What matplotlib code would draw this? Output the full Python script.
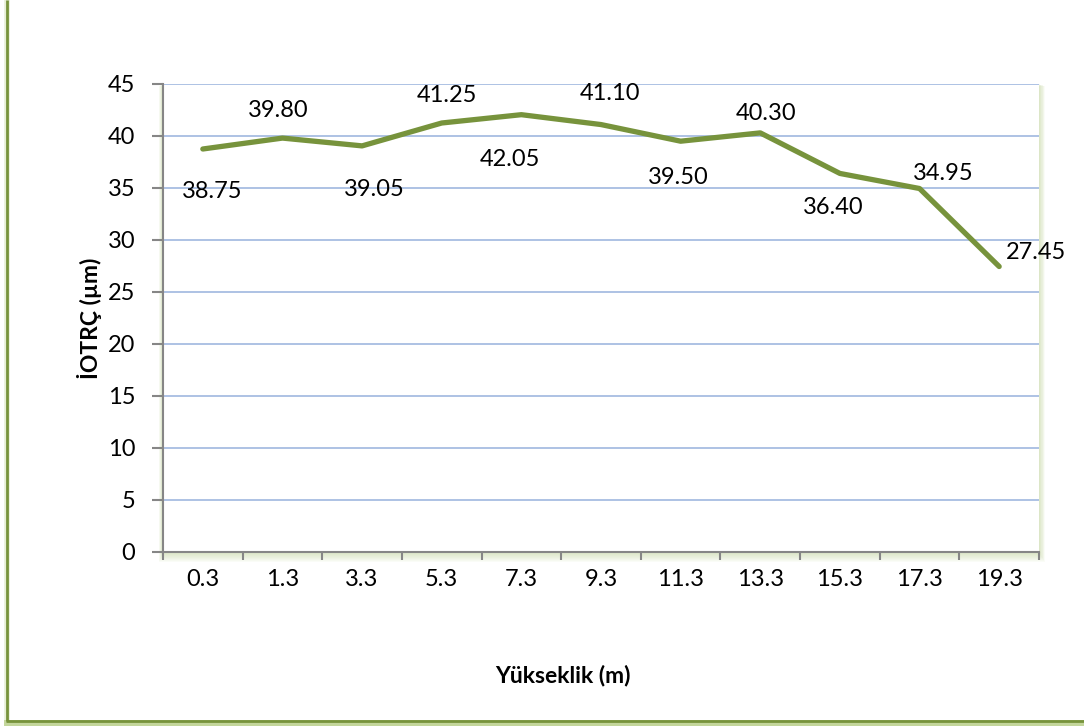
import matplotlib
matplotlib.use("Agg")
import matplotlib.pyplot as plt
from matplotlib.patches import Rectangle
from matplotlib.lines import Line2D

plt.rcParams['font.family'] = ['Lato', 'DejaVu Sans']

heights = ["0.3", "1.3", "3.3", "5.3", "7.3", "9.3", "11.3", "13.3", "15.3", "17.3", "19.3"]
iotrc = [38.75, 39.80, 39.05, 41.25, 42.05, 41.10, 39.50, 40.30, 36.40, 34.95, 27.45]
y_ticks = [0, 5, 10, 15, 20, 25, 30, 35, 40, 45]

# where each value label sits relative to its point (pixels)
label_offsets = [(9, -42), (-4, 28), (12, -44), (5, 27), (-11, -45), (9, 31),
                 (-2, -36), (6, 19), (-7, -34), (24, 15), (37, 14)]

W, H = 1084, 726
fig = plt.figure(figsize=(W / 100, H / 100), dpi=100)
fig.patch.set_facecolor('white')

# plot area in pixels
left, right, top, bottom = 163, 1039, 84, 552
ax = fig.add_axes([left / W, 1 - bottom / H, (right - left) / W, (bottom - top) / H])

# soft green shadow around the plot area
for i in range(10, 0, -1):
    shadow = Rectangle(((left - i * 0.4) / W, 1 - (bottom + i * 1.0) / H),
                       (right - left + i * 1.0) / W, (bottom - top + i * 0.8) / H,
                       transform=fig.transFigure, facecolor='#c3d69b',
                       edgecolor='none', alpha=0.07, zorder=0)
    fig.add_artist(shadow)
ax.set_zorder(2)
ax.set_facecolor('white')

# outer chart border (green, left and bottom visible)
fig.add_artist(Line2D([6.5 / W, 6.5 / W], [1.0, 1 - 721 / H], transform=fig.transFigure,
                      color='#c3d69b', lw=4, alpha=0.4, zorder=1))
fig.add_artist(Line2D([6.5 / W, 1.0], [1 - 722.5 / H, 1 - 722.5 / H], transform=fig.transFigure,
                      color='#c3d69b', lw=5, zorder=1))
fig.add_artist(Line2D([6.5 / W, 6.5 / W], [1.0, 1 - 720.5 / H], transform=fig.transFigure,
                      color='#77933c', lw=2, zorder=1, solid_capstyle='butt'))
fig.add_artist(Line2D([5.5 / W, 1.0], [1 - 720.5 / H, 1 - 720.5 / H], transform=fig.transFigure,
                      color='#77933c', lw=2, zorder=1, solid_capstyle='butt'))

x = list(range(len(heights)))
ax.plot(x, iotrc, color='#77933c', lw=3.8, solid_joinstyle='round',
        solid_capstyle='round', zorder=3)

for xi, v, (dx, dy) in zip(x, iotrc, label_offsets):
    ax.annotate(f"{v:.2f}", (xi, v), xytext=(dx, dy), textcoords='offset pixels',
                ha='center', va='center', fontsize=17, color='black', zorder=4)

ax.set_xlim(-0.5, len(heights) - 0.5)
ax.set_ylim(0, 45)
ax.set_yticks(y_ticks)
ax.yaxis.grid(True, color='#a7bde2', lw=1.3)
ax.set_axisbelow(True)

# category labels centred, tick marks between categories
ax.set_xticks([i - 0.5 for i in range(len(heights) + 1)])
ax.set_xticklabels([])
ax.set_xticks(x, minor=True)
ax.set_xticklabels(heights, minor=True, fontsize=17)
ax.tick_params(axis='x', which='major', length=6, width=1.5, color='#868686', direction='out')
ax.tick_params(axis='x', which='minor', length=0, pad=12)
ax.tick_params(axis='y', length=8, width=1.5, color='#868686', direction='out', pad=12, labelsize=17)

for side in ['top', 'right']:
    ax.spines[side].set_visible(False)
for side in ['left', 'bottom']:
    ax.spines[side].set_color('#868686')
    ax.spines[side].set_linewidth(1.5)

fig.text(90 / W, 1 - 318 / H, "İOTRÇ (µm)", rotation=90, ha='center', va='center',
         fontsize=16.5, fontweight='bold')
fig.text(563 / W, 1 - 675 / H, "Yükseklik (m)", ha='center', va='center',
         fontsize=16.5, fontweight='bold')

fig.savefig("out.png", dpi=100)
